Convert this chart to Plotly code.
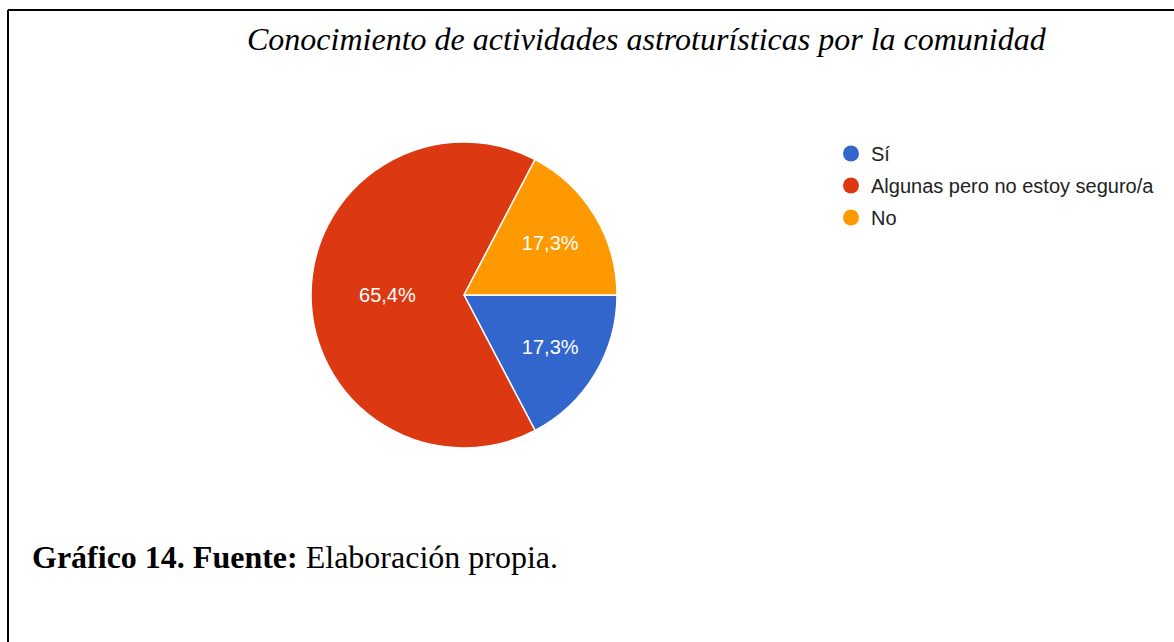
import plotly.graph_objects as go

labels = ["Sí", "Algunas pero no estoy seguro/a", "No"]
values = [9, 34, 9]
colors = ["#3366CC", "#DC3912", "#FF9900"]
title_text = "Conocimiento de actividades astroturísticas por la comunidad"
caption_bold = "Gráfico 14. Fuente:"
caption_rest = "Elaboración propia."

W, H = 1174, 642
total = sum(values)
pct_text = [f"{v / total * 100:.1f}%".replace(".", ",") for v in values]

fig = go.Figure()
fig.add_trace(go.Pie(
    labels=labels, values=values, text=pct_text, texttemplate="%{text}",
    textposition="inside", insidetextorientation="horizontal",
    textfont=dict(family="Arial, Liberation Sans", size=20, color="white"),
    marker=dict(colors=colors, line=dict(color="white", width=1.5)),
    sort=False, direction="clockwise", rotation=90, showlegend=False,
    hoverinfo="label+percent",
    domain=dict(x=[311 / W, 617 / W], y=[1 - 448 / H, 1 - 142 / H]),
))
for i, (lab, col) in enumerate(zip(labels, colors)):
    fig.add_trace(go.Scatter(
        x=[None], y=[None], mode="markers", name=lab, legendgroup=f"g{i}",
        marker=dict(color=col, size=20, symbol="circle"),
    ))

fig.update_layout(
    width=W, height=H, margin=dict(l=0, r=0, t=0, b=0),
    paper_bgcolor="white", plot_bgcolor="white",
    xaxis=dict(visible=False), yaxis=dict(visible=False),
    legend=dict(x=831 / W, y=1 - 134 / H, xanchor="left", yanchor="top",
                font=dict(family="Arial, Liberation Sans", size=20, color="#222222"),
                tracegroupgap=3, itemsizing="trace", bgcolor="rgba(0,0,0,0)"),
    annotations=[
        dict(text=f"<i>{title_text}</i>", x=647 / W, y=1 - 39 / H, xref="paper", yref="paper",
             showarrow=False, xanchor="center", yanchor="middle",
             font=dict(family="Liberation Serif, Times New Roman", size=32, color="black")),
        dict(text=f"<b>{caption_bold}</b> {caption_rest}", x=30 / W, y=1 - 557 / H,
             xref="paper", yref="paper", showarrow=False, xanchor="left", yanchor="middle",
             font=dict(family="Liberation Serif, Times New Roman", size=32, color="black")),
    ],
    shapes=[
        dict(type="line", xref="paper", yref="paper", x0=8 / W, x1=1, y0=1 - 10 / H, y1=1 - 10 / H,
             line=dict(color="black", width=2)),
        dict(type="line", xref="paper", yref="paper", x0=8 / W, x1=8 / W, y0=1 - 10 / H, y1=0,
             line=dict(color="black", width=2)),
    ],
)
fig.write_html("out.html", config={"displayModeBar": False},
               post_script="document.body.style.margin='0';")
